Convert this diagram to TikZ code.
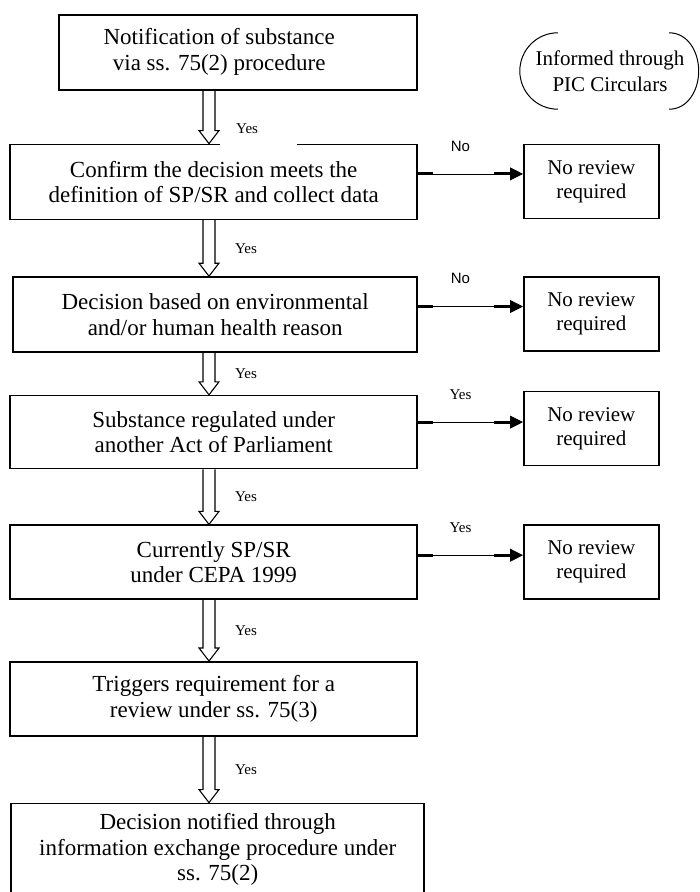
\documentclass[tikz,border=0pt]{standalone}
\usepackage{fontspec}
\setmainfont{Liberation Serif}
\newfontfamily\labelsans{Liberation Sans}
\usetikzlibrary{positioning}
\usetikzlibrary{calc}
\usetikzlibrary{arrows.meta}
\tikzstyle{stage} = [rectangle, draw=black, line width=1.6pt, align=center,
inner sep=4pt, font=\fontsize{23}{25.5}\selectfont]
\tikzstyle{outcome} = [rectangle, draw=black, line width=1.6pt, align=center,
minimum width=135pt, minimum height=74pt, font=\fontsize{21}{24}\selectfont]
\tikzstyle{bracketnote} = [align=center, minimum width=180pt, minimum height=76pt,
font=\fontsize{21}{26}\selectfont]
\tikzstyle{answer} = [inner sep=0pt, font=\fontsize{15}{15}\selectfont]
\tikzstyle{hollow} = [line width=1.1pt, line join=miter]
\tikzstyle{sideline} = [line width=0.8pt, -{Triangle[length=13pt,width=13pt]}]
\tikzstyle{stub} = [line width=3pt]
\newcommand{\downedge}[4][]{ %
  % Hollow arrow from #2 down to #3, with its Yes label #4.
  \coordinate (t) at (#2.south -| ax) ; %
  \coordinate (h) at (#3.north -| ax) ; %
  \draw[hollow] ($(t)+(-6pt,0)$) -- ($(h)+(-6pt,13pt)$) -- ($(h)+(-10pt,13pt)$)
    -- (h) -- ($(h)+(10pt,13pt)$) -- ($(h)+(6pt,13pt)$) -- ($(t)+(6pt,0)$) ; %
  \path (t) -- (h) node[answer, midway, xshift=37pt, #1] (#4) {Yes} ; %
}
\newcommand{\sideedge}[5][8pt]{ %
  % Connect #2 to the outcome #3, label #4 with text #5.
  \coordinate (s) at ([yshift=#1]#2.east) ; %
  \coordinate (e) at ([yshift=#1]#2.east -| #3.west) ; %
  \draw[sideline] (s) -- node[answer, above=22pt, xshift=-10pt] (#4) {#5} (e) ; %
  \draw[stub] (s) -- ++(15pt,0) ; %
  \draw[stub] ($(e)+(-29pt,0)$) -- ++(16pt,0) ; %
}

\begin{document}
\begin{tikzpicture}
	\useasboundingbox (0,0) rectangle (700pt,-892pt) ;
	\coordinate (ax) at (209pt,0) ;

	% the text of the first box sits a little left of the box centre
	\node[stage, minimum width=358pt, minimum height=75pt, anchor=north east] (b1) at (418pt,-14pt)
		{\begin{tabular}{@{}c@{}}Notification of substance\\via ss. 75(2) procedure\end{tabular}\hspace*{38pt}} ; %
	\node[stage, minimum width=407pt, minimum height=75pt, below=53pt of b1.south east, anchor=north east] (b2)
		{Confirm the decision meets the\\definition of SP/SR and collect data} ; %
	\node[stage, minimum width=404pt, minimum height=75pt, below=56pt of b2.south east, anchor=north east] (b3)
		{Decision based on environmental\\and/or human health reason} ; %
	\node[stage, minimum width=407pt, minimum height=73pt, below=42pt of b3.south east, anchor=north east] (b4)
		{Substance regulated under\\another Act of Parliament} ; %
	\node[stage, minimum width=407pt, minimum height=74pt, below=55pt of b4.south east, anchor=north east] (b5)
		{Currently SP/SR\\under CEPA 1999} ; %
	\node[stage, minimum width=407pt, minimum height=74pt, below=61pt of b5.south east, anchor=north east] (b6)
		{Triggers requirement for a\\review under ss. 75(3)} ; %
	\node[stage, minimum width=413pt, minimum height=92pt, below=66pt of b6.south east, anchor=north east, xshift=7pt] (b7)
		{Decision notified through\\information exchange procedure under\\ss. 75(2)} ; %

	\node[outcome, right=105pt of b2.north east, anchor=north west] (n1) {No review\\required} ; %
	\node[outcome, right=105pt of b3.north east, anchor=north west] (n2) {No review\\required} ; %
	\node[outcome, right=105pt of b4.north east, anchor=north west, yshift=4pt] (n3) {No review\\required} ; %
	\node[outcome, right=105pt of b5.north east, anchor=north west] (n4) {No review\\required} ; %

	\node[bracketnote] (inf) at (610pt,-71pt) {Informed through\\PIC Circulars} ; %
	\draw[line width=1pt] ([xshift=38pt]inf.north west) to[out=180,in=90] (inf.west)
		to[out=-90,in=180] ([xshift=38pt]inf.south west) ; %
	\draw[line width=1pt] ([xshift=-31pt]inf.north east) to[out=0,in=90] ([xshift=-1.5pt]inf.east)
		to[out=-90,in=0] ([xshift=-31pt]inf.south east) ; %

	\downedge[anchor=west, xshift=-26pt, yshift=-12pt, fill=white, text width=45pt, inner xsep=16pt,
		minimum height=34pt, align=left]{b1}{b2}{y1} ;
	\downedge{b2}{b3}{y2} ;
	\downedge{b3}{b4}{y3} ;
	\downedge{b4}{b5}{y4} ;
	\downedge{b5}{b6}{y5} ;
	\downedge{b6}{b7}{y6} ;

	\sideedge{b2}{n1}{l1}{\labelsans No} ;
	\sideedge{b3}{n2}{l2}{\labelsans No} ;
	\sideedge[10pt]{b4}{n3}{l3}{Yes} ;
	\sideedge[7pt]{b5}{n4}{l4}{Yes} ;
\end{tikzpicture}
\end{document}
